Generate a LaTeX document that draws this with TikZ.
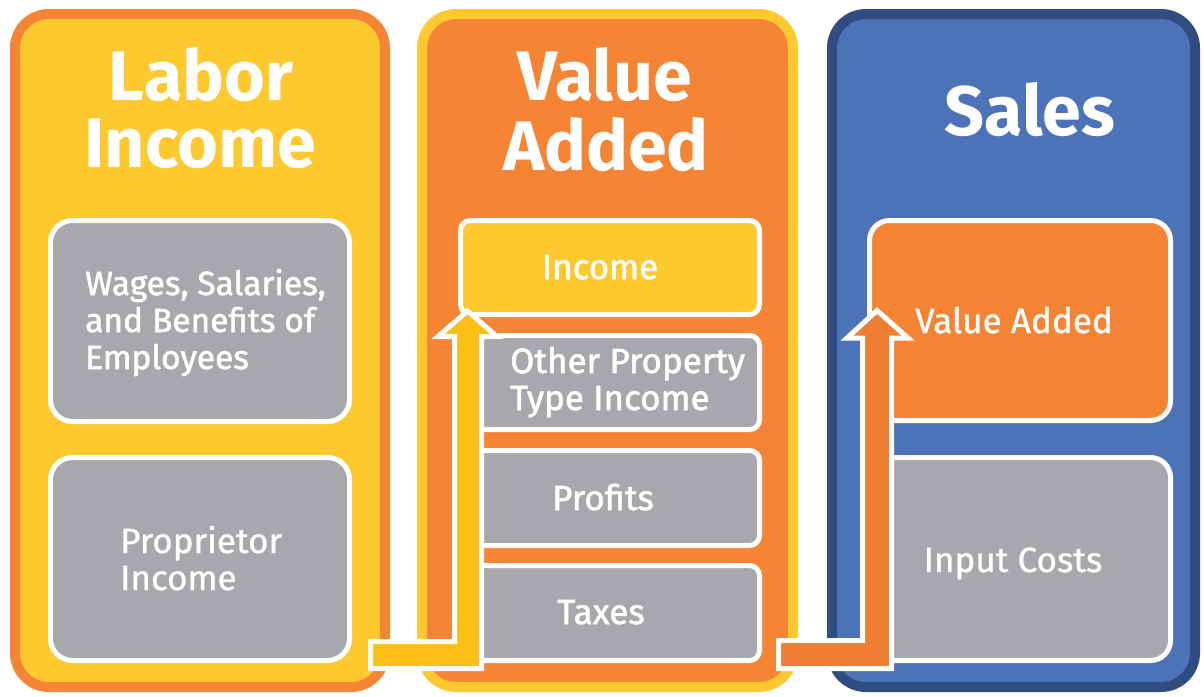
\documentclass[tikz,border=0pt]{standalone}
\usepackage{fontspec}
\setmainfont{Fira Sans}
\newfontfamily\semifont{Fira Sans}[FakeBold=1.6]
\newfontfamily\medfont{Fira Sans}[FakeBold=0.9]
\definecolor{cOrange}{HTML}{F58535}
\definecolor{cYellow}{HTML}{FDC92F}
\definecolor{cArrowY}{HTML}{FBBF15}
\definecolor{cArrowO}{HTML}{EE7E33}
\definecolor{cGray}{HTML}{A7A8AB}
\definecolor{cBlue}{HTML}{4C72B7}
\definecolor{cDarkBlue}{HTML}{314C80}
\tikzset{
  panel/.style={draw, line width=10pt, rounded corners=34pt, minimum width=370pt, minimum height=673pt, inner sep=0pt},
  sub/.style={draw=white, line width=5pt, inner sep=0pt},
  heading/.style={text=white, font=\fontsize{70}{70}\selectfont\bfseries, inner sep=0pt, anchor=base},
  label/.style={text=white, font=\fontsize{35}{37}\selectfont\semifont, inner sep=0pt},
  labelw/.style={text=white, font=\fontsize{33.5}{37}\selectfont\semifont, inner sep=0pt},
  labelm/.style={text=white, font=\fontsize{35}{37}\selectfont\medfont, inner sep=0pt},
  flow/.style={draw=white, line width=5pt, miter limit=10},
}
\begin{document}
\begin{tikzpicture}[x=1pt,y=-1pt]
\useasboundingbox (0,0) rectangle (1204,696);
% panels
\node[panel, draw=cOrange, fill=cYellow] (p1) at (200,350.5) {};
\node[panel, draw=cYellow, fill=cOrange, minimum width=371pt] (p2) at (607.5,350.5) {};
\node[panel, draw=cDarkBlue, fill=cBlue, minimum width=363pt] (p3) at (1013.5,350.5) {};
% headings
\node[heading] (h1a) at (201,100) {Labor};
\node[heading] (h1b) at (200,167) {Income};
\node[heading] (h2a) at (605,100) {Value};
\node[heading] (h2b) at (606,170) {Added};
\node[heading] (h3) at (1030,135) {Sales};
% panel 1 boxes
\node[sub, fill=cGray, rounded corners=22pt, minimum width=299pt, minimum height=201pt] (wages) at (200,321) {};
\node[sub, fill=cGray, rounded corners=22pt, minimum width=299pt, minimum height=203pt] (prop) at (200,559) {};
\node[labelw, anchor=base west] (w1) at (85,295) {Wages, Salaries,};
\node[labelw, anchor=base west] (w2) at (85,332) {and Benefits of};
\node[labelw, anchor=base west] (w3) at (85,369) {Employees};
\node[labelm, anchor=base west] (pr1) at (120,553) {Proprietor};
\node[labelm, anchor=base west] (pr2) at (120,590) {Income};
% panel 2 boxes
\node[sub, fill=cYellow, rounded corners=10pt, minimum width=299pt, minimum height=94pt] (inc) at (610,267.5) {};
\node[sub, fill=cGray, rounded corners=10pt, minimum width=299pt, minimum height=94pt] (oth) at (610,382.5) {};
\node[sub, fill=cGray, rounded corners=10pt, minimum width=299pt, minimum height=95pt] (prof) at (610,498) {};
\node[sub, fill=cGray, rounded corners=10pt, minimum width=299pt, minimum height=95pt] (tax) at (610,613) {};
\node[label, anchor=base] (incT) at (600,279) {Income};
\node[label, anchor=base west] (o1) at (510,373) {Other Property};
\node[label, anchor=base west] (o2) at (510,410) {Type Income};
\node[label, anchor=base] (profT) at (603,510) {Profits};
\node[label, anchor=base] (taxT) at (601,624) {Taxes};
% panel 3 boxes
\node[sub, fill=cOrange, rounded corners=20pt, minimum width=301pt, minimum height=200pt] (va) at (1020,320.5) {};
\node[sub, fill=cGray, rounded corners=20pt, minimum width=301pt, minimum height=203pt] (ic) at (1020,559) {};
\node[labelm, anchor=base] (vaT) at (1014,333) {Value Added};
\node[labelm, anchor=base] (icT) at (1013,572) {Input Costs};
% flow arrows
\draw[flow, fill=cArrowY] (370.5,668.5) -- (481.5,668.5) -- (481.5,336.5) -- (497,336.5)
  -- (467.5,311) -- (438,336.5) -- (454.5,336.5) -- (454.5,641.5) -- (370.5,641.5) -- cycle;
\draw[flow, fill=cArrowO] (778.5,668.5) -- (891.5,668.5) -- (891.5,338) -- (908,338)
  -- (877,310.5) -- (847,338) -- (862.5,338) -- (862.5,640.5) -- (778.5,640.5) -- cycle;
\end{tikzpicture}
\end{document}
